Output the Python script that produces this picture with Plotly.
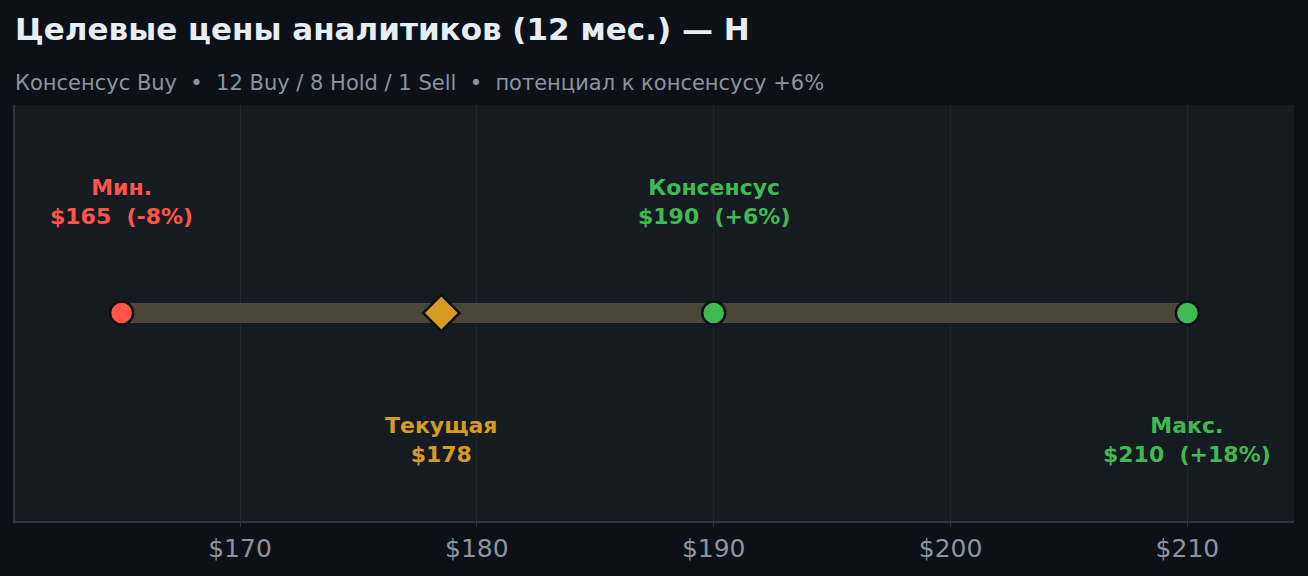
import plotly.graph_objects as go

# analyst target prices
point_names = ["Мин.", "Текущая", "Консенсус", "Макс."]
point_prices = [165, 178.5, 190, 210]
point_texts = ["$165  (-8%)", "$178", "$190  (+6%)", "$210  (+18%)"]
point_colors = ["#ff5549", "#d69b22", "#3fb950", "#3fb950"]
label_side = [1, -1, 1, -1]  # 1 = above the bar, -1 = below

range_low = 165
range_high = 210

tick_vals = [170, 180, 190, 200, 210]
tick_text = ["$170", "$180", "$190", "$200", "$210"]

title = "Целевые цены аналитиков (12 мес.) — H"
subtitle = "Консенсус Buy  •  12 Buy / 8 Hold / 1 Sell  •  потенциал к консенсусу +6%"

FONT = "DejaVu Sans"

fig = go.Figure()

# range bar min -> max, above the grid but under the markers
fig.add_shape(
  type="line", xref="x", yref="y",
  x0=range_low, x1=range_high, y0=0, y1=0,
  line=dict(color="#4b4638", width=20),
  layer="between"
)

# points: circles for targets, diamond for current price
symbols = ["diamond" if n == "Текущая" else "circle" for n in point_names]
sizes = [28 if n == "Текущая" else 23 for n in point_names]
fig.add_trace(go.Scatter(
  x=point_prices, y=[0] * len(point_prices),
  mode="markers",
  marker=dict(symbol=symbols, size=sizes, color=point_colors, opacity=1,
              line=dict(color="#0d1117", width=2.5)),
  hoverinfo="skip", showlegend=False
))

# labels
for name, price, txt, col, side in zip(point_names, point_prices, point_texts, point_colors, label_side):
  fig.add_annotation(
    x=price, y=0.535 if side > 0 else -0.61,
    xref="x", yref="y",
    text="<b>%s<br>%s</b>" % (name, txt),
    showarrow=False, align="center",
    font=dict(family=FONT, size=22, color=col),
    xanchor="center", yanchor="middle"
  )

# title + subtitle
fig.add_annotation(
  x=0, y=1.0, xref="paper", yref="paper", yshift=76, xshift=-2,
  text="<b>%s</b>" % title, showarrow=False,
  xanchor="left", yanchor="middle",
  font=dict(family=FONT, size=31, color="#e6edf3")
)
fig.add_annotation(
  x=0, y=1.0, xref="paper", yref="paper", yshift=22, xshift=-2,
  text=subtitle, showarrow=False,
  xanchor="left", yanchor="middle",
  font=dict(family=FONT, size=21, color="#8b949e")
)

fig.update_layout(
  width=1308, height=576,
  paper_bgcolor="#0d1117",
  plot_bgcolor="#161b22",
  margin=dict(l=15, r=14, t=105, b=55),
  font=dict(family=FONT, color="#8b949e")
)

fig.update_xaxes(
  range=[160.5, 214.5],
  tickvals=tick_vals, ticktext=tick_text,
  tickfont=dict(family=FONT, size=25, color="#8b949e"),
  showgrid=True, gridcolor="#21262d", gridwidth=1,
  zeroline=False,
  showline=True, linecolor="#30363d", linewidth=2,
  ticks="outside", ticklen=4, tickcolor="#30363d"
)
fig.update_yaxes(
  range=[-1, 1],
  showticklabels=False, showgrid=False, zeroline=False,
  showline=True, linecolor="#30363d", linewidth=2
)

# drop the default page margin so the figure sits at the window corner
fig.write_html("out.html", config={"displayModeBar": False},
               post_script="document.body.style.margin='0';")
